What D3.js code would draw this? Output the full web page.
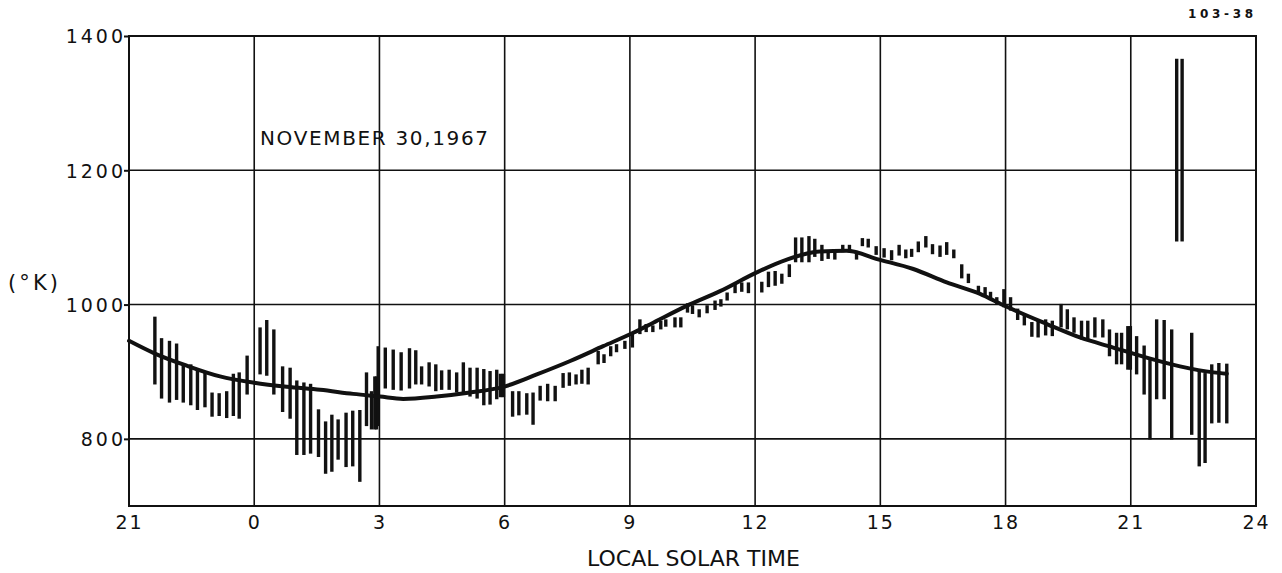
<!DOCTYPE html>
<html>
<head>
<meta charset="utf-8">
<script src="https://cdn.jsdelivr.net/npm/d3@7"></script>
<style>
  html, body { margin: 0; padding: 0; background: #fff; }
  svg { display: block; }
  text { font-family: "DejaVu Sans", sans-serif; fill: #111; }
</style>
</head>
<body>
<svg id="chart" width="1282" height="573"></svg>
<script>
// ---- data ----
const xTickValues = [-3, 0, 3, 6, 9, 12, 15, 18, 21, 24];
const xTickLabels = ["21", "0", "3", "6", "9", "12", "15", "18", "21", "24"];
const yTickValues = [800, 1000, 1200, 1400];
const yTickLabels = ["800", "1000", "1200", "1400"];
const yGridValues = [800, 1000, 1200];

// local solar time (hours, negative = previous day) of each measurement bar
const barTime = [
  -2.38,-2.22,-2.03,-1.86,-1.70,-1.52,-1.36,-1.18,-1.01,-0.84,
  -0.66,-0.50,-0.36,-0.17, 0.14, 0.30, 0.47, 0.68, 0.86, 1.02,
   1.19, 1.35, 1.54, 1.71, 1.86, 2.01, 2.20, 2.36, 2.53, 2.69,
   2.81, 2.89, 2.93, 2.97, 3.14, 3.33, 3.52, 3.72, 3.87, 4.01,
   4.19, 4.35, 4.49, 4.67, 4.85, 5.01, 5.17, 5.34, 5.50, 5.65,
   5.81, 5.90, 5.97, 6.19, 6.34, 6.53, 6.68, 6.85, 7.03, 7.21,
   7.40, 7.55, 7.71, 7.85, 8.00, 8.24, 8.38, 8.54, 8.68, 8.88,
   9.06, 9.24, 9.39, 9.55, 9.74, 9.86,10.08,10.22,10.38,10.50,
  10.66,10.85,11.04,11.18,11.33,11.52,11.68,11.84,12.16,12.32,
  12.48,12.64,12.82,12.97,13.12,13.29,13.43,13.60,13.75,13.91,
  14.10,14.26,14.43,14.57,14.71,14.90,15.09,15.27,15.45,15.61,
  15.75,15.91,16.09,16.25,16.43,16.59,16.76,16.95,17.11,17.35,
  17.51,17.64,17.79,17.96,18.12,18.29,18.45,18.63,18.78,18.96,
  19.12,19.33,19.48,19.64,19.82,19.97,20.14,20.33,20.49,20.66,
  20.78,20.93,20.99,21.14,21.32,21.46,21.62,21.80,21.98,22.10,
  22.23,22.46,22.64,22.78,22.94,23.11,23.30
];
// lower end of each bar (°K)
const barLow = [
   881, 860, 854, 858, 854, 850, 843, 847, 833, 834,
   831, 834, 830, 866, 896, 894, 866, 840, 830, 776,
   776, 778, 773, 748, 751, 769, 758, 759, 736, 819,
   814, 814, 814, 819, 875, 873, 872, 875, 881, 881,
   878, 871, 873, 873, 869, 869, 863, 860, 850, 851,
   859, 862, 862, 833, 835, 836, 821, 857, 856, 856,
   876, 879, 881, 882, 881, 911, 913, 923, 929, 934,
   936, 956, 959, 959, 963, 967, 966, 966, 988, 986,
   981, 987, 992, 997,1006,1017,1019,1017,1018,1026,
  1028,1031,1041,1063,1063,1063,1071,1065,1068,1067,
  1078,1078,1067,1087,1085,1074,1070,1066,1073,1069,
  1071,1078,1085,1075,1071,1074,1069,1039,1032,1016,
  1013,1007,1001, 996, 991, 977, 969, 952, 951, 954,
   953, 966, 963, 958, 948, 946, 951, 951, 923, 911,
   911, 903, 903, 896, 866, 799, 859, 859, 799,1094,
  1094, 806, 759, 764, 823, 824, 823
];
// upper end of each bar (°K)
const barHigh = [
   982, 950, 946, 942, 911, 911, 903, 899, 869, 868,
   871, 897, 899, 924, 966, 977, 963, 908, 906, 887,
   884, 882, 844, 826, 836, 829, 839, 842, 843, 899,
   871, 893, 893, 938, 936, 933, 929, 935, 932, 908,
   914, 911, 902, 903, 899, 914, 906, 906, 904, 901,
   903, 897, 897, 871, 871, 868, 869, 879, 882, 879,
   898, 899, 896, 903, 906, 931, 926, 938, 941, 946,
   958, 978, 971, 969, 976, 978, 981, 981,1002, 999,
   993, 999,1006,1008,1018,1031,1033,1033,1034,1049,
  1050,1046,1060,1100,1100,1102,1098,1089,1080,1078,
  1089,1089,1080,1099,1098,1087,1084,1081,1089,1082,
  1083,1094,1102,1090,1088,1093,1082,1060,1046,1028,
  1026,1019,1011,1023,1011, 994, 986, 974, 976, 978,
   976,1001, 993, 981, 976, 976, 981, 978, 963, 958,
   958, 968, 968, 953, 939, 918, 978, 977, 963,1366,
  1366, 958, 901, 898, 911, 913, 912
];

// smooth fitted curve
const curveTime = [-3.0,-2.38,-1.62,-0.82,0.0,0.78,1.58,2.37,3.01,3.57,4.37,5.17,5.97,6.77,7.57,8.36,9.08,9.56,10.36,11.16,12.04,12.76,13.55,14.19,14.97,15.79,16.59,17.39,17.95,18.99,19.78,20.58,21.38,22.18,22.98,23.30];
const curveValue = [946,927,909,893,883.5,877.5,873,867,863,859.5,863,869,877.5,896,916,938,958,973,998,1020,1048,1067,1079,1080,1067,1053,1033,1016,999,971,951,936,921,908,899,897];

// ---- drawing ----
const svg = d3.select("#chart");
const plotLeft = 129, plotRight = 1256, plotTop = 36, plotBottom = 506;

const x = d3.scaleLinear().domain([-3, 24]).range([plotLeft, plotRight]);
const y = d3.scaleLinear().domain([700, 1400]).range([plotBottom, plotTop]);

const ink = "#111";

// vertical gridlines
svg.append("g").selectAll("line")
  .data(xTickValues.slice(1, -1))
  .join("line")
  .attr("x1", d => x(d)).attr("x2", d => x(d))
  .attr("y1", y(700)).attr("y2", y(1400))
  .attr("stroke", ink).attr("stroke-width", 1.6);

// horizontal gridlines
svg.append("g").selectAll("line")
  .data(yGridValues)
  .join("line")
  .attr("x1", x(-3)).attr("x2", x(24))
  .attr("y1", d => y(d)).attr("y2", d => y(d))
  .attr("stroke", ink).attr("stroke-width", 1.6);

// frame
svg.append("rect")
  .attr("x", x(-3)).attr("y", y(1400))
  .attr("width", x(24) - x(-3)).attr("height", y(700) - y(1400))
  .attr("fill", "none").attr("stroke", ink).attr("stroke-width", 2);

// y axis
const yAxis = d3.axisLeft(y).tickValues(yTickValues).tickSize(5).tickPadding(-2)
  .tickFormat((d, i) => yTickLabels[i]);
const gy = svg.append("g").attr("transform", `translate(${plotLeft},0)`).call(yAxis);
gy.select(".domain").remove();
gy.selectAll(".tick line").attr("stroke", ink).attr("stroke-width", 2);
gy.selectAll(".tick text")
  .style("font-family", '"DejaVu Sans", sans-serif')
  .style("font-size", "19px").style("letter-spacing", "3px")
  .attr("fill", ink)
  .attr("dy", "0.36em");

// x axis
const xAxis = d3.axisBottom(x).tickValues(xTickValues).tickSize(0).tickPadding(10)
  .tickFormat((d, i) => xTickLabels[i]);
const gx = svg.append("g").attr("transform", `translate(0,${plotBottom})`).call(xAxis);
gx.select(".domain").remove();
gx.selectAll(".tick text")
  .style("font-family", '"DejaVu Sans", sans-serif')
  .style("font-size", "19px").style("letter-spacing", "2px")
  .attr("fill", ink);

// measurement bars
svg.append("g").selectAll("line")
  .data(barTime.map((t, i) => ({ t, lo: barLow[i], hi: barHigh[i] })))
  .join("line")
  .attr("x1", d => x(d.t)).attr("x2", d => x(d.t))
  .attr("y1", d => y(d.hi)).attr("y2", d => y(d.lo))
  .attr("stroke", ink).attr("stroke-width", 3.4);

// fitted curve
const line = d3.line()
  .x((d, i) => x(curveTime[i]))
  .y(d => y(d))
  .curve(d3.curveMonotoneX);
svg.append("path")
  .datum(curveValue)
  .attr("d", line)
  .attr("fill", "none").attr("stroke", ink).attr("stroke-width", 4)
  .attr("stroke-linejoin", "round").attr("stroke-linecap", "round");

// texts
svg.append("text")
  .attr("x", 260).attr("y", 145)
  .attr("textLength", 228).attr("lengthAdjust", "spacing")
  .style("font-size", "20px")
  .text("NOVEMBER 30,1967");

svg.append("text")
  .attr("x", 8).attr("y", 290)
  .attr("textLength", 50).attr("lengthAdjust", "spacing")
  .style("font-size", "21px")
  .text("(°K)");

svg.append("text")
  .attr("x", 587).attr("y", 566)
  .attr("textLength", 213).attr("lengthAdjust", "spacing")
  .style("font-size", "22px")
  .text("LOCAL SOLAR TIME");

svg.append("text")
  .attr("x", 1188).attr("y", 18)
  .attr("textLength", 65).attr("lengthAdjust", "spacing")
  .style("font-size", "12px").style("font-weight", "bold")
  .text("103-38");
</script>
</body>
</html>
